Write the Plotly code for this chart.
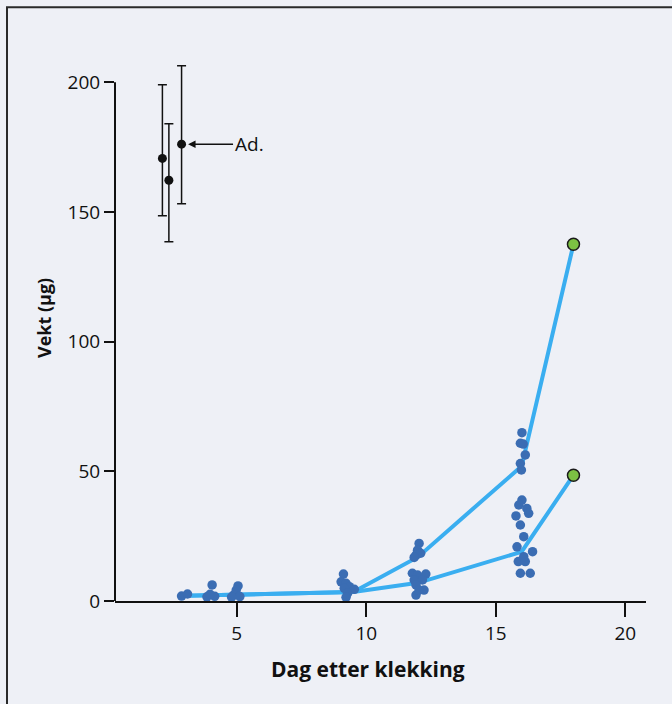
import plotly.graph_objects as go

# Mean curves (two groups)
line_days = [3, 5, 9.5, 12, 16, 18]
upper_means = [2.0, 2.5, 3.5, 17.0, 52.0, 137.5]
lower_means = [2.0, 2.5, 3.5, 7.0, 19.0, 48.5]

# Individual larvae
ind_days = [2.87, 3.1,
            3.85, 4.05, 4.15, 3.97,
            5.05, 4.98, 4.88, 5.12, 4.8,
            9.12, 9.03, 9.22, 9.35, 9.54, 9.15, 9.28, 9.22,
            12.04, 11.98, 11.92, 12.1, 11.85,
            11.78, 11.98, 12.3, 11.85, 12.17, 11.92, 12.23, 11.92, 12.04,
            16.01, 15.95, 16.14, 15.95, 15.99, 16.06,
            16.01, 15.89, 16.2, 16.27, 15.78, 15.95, 16.08, 15.82, 16.42, 15.87, 16.14, 15.95, 16.33, 16.08]
ind_weights = [1.9, 2.7,
               1.6, 6.2, 1.8, 2.6,
               5.8, 4.2, 2.3, 1.7, 1.5,
               10.4, 7.4, 6.8, 5.5, 4.5, 4.9, 3.0, 1.4,
               22.2, 19.6, 17.7, 18.4, 16.8,
               10.7, 10.0, 10.4, 8.1, 8.1, 6.2, 4.2, 2.3, 4.2,
               64.9, 60.8, 56.3, 53.0, 50.5, 60.5,
               38.9, 37.0, 35.7, 33.8, 32.8, 29.3, 24.8, 20.9, 19.0, 15.2, 15.2, 10.7, 10.7, 17.1]

# Adults
adult_days = [2.13, 2.38, 2.87]
adult_means = [170.6, 162.2, 176.1]
adult_err_plus = [28.4, 21.8, 30.2]
adult_err_minus = [22.1, 23.7, 23.0]

x_ticks = [5, 10, 15, 20]
y_ticks = [0, 50, 100, 150, 200]
y_axis_max = 200

LINE = "#3aaef0"
DOT = "#3b6db3"
GREEN = "#7cc143"
FONT = "Open Sans"
INK = "#111111"

# plot area geometry (pixels)
L, R, B = 115, 646, 601
PX_PER_UNIT = 2.595
Y_TOP_VAL = 212
T = B - Y_TOP_VAL * PX_PER_UNIT
W, H = R - L, B - T


def px_x(p):
    return (p - L) / W


def px_y(p):
    return (B - p) / H


fig = go.Figure()

fig.add_trace(go.Scatter(x=line_days, y=upper_means, mode="lines",
                         line=dict(color=LINE, width=4), cliponaxis=False, hoverinfo="skip"))
fig.add_trace(go.Scatter(x=line_days, y=lower_means, mode="lines",
                         line=dict(color=LINE, width=4), cliponaxis=False, hoverinfo="skip"))
fig.add_trace(go.Scatter(x=ind_days, y=ind_weights, mode="markers",
                         marker=dict(color=DOT, size=9.5), cliponaxis=False))
fig.add_trace(go.Scatter(x=[line_days[-1], line_days[-1]], y=[upper_means[-1], lower_means[-1]],
                         mode="markers",
                         marker=dict(color=GREEN, size=12, line=dict(color="#1a1a1a", width=1.5)),
                         cliponaxis=False))
fig.add_trace(go.Scatter(x=adult_days, y=adult_means, mode="markers",
                         marker=dict(color=INK, size=9),
                         error_y=dict(type="data", symmetric=False, array=adult_err_plus,
                                      arrayminus=adult_err_minus, color=INK,
                                      thickness=1.5, width=4.5),
                         cliponaxis=False))

fig.add_annotation(x=3.12, y=adult_means[2], xref="x", yref="y",
                   text="Ad.", showarrow=True, ax=61, ay=0,
                   arrowhead=2, arrowsize=1, arrowwidth=1.5, arrowcolor=INK,
                   standoff=0, font=dict(family=FONT, size=19, color=INK))

# Y axis line only up to 200
fig.add_shape(type="line", xref="paper", yref="y", x0=0, x1=0, y0=0, y1=y_axis_max,
              line=dict(color=INK, width=2))

# Axis titles
fig.add_annotation(x=px_x(368), y=px_y(669), xref="paper", yref="paper",
                   xanchor="center", yanchor="middle",
                   text="<b>Dag etter klekking</b>", showarrow=False,
                   font=dict(family=FONT, size=21, color=INK))
fig.add_annotation(x=px_x(44), y=px_y(318), xref="paper", yref="paper",
                   xanchor="center", yanchor="middle",
                   text="<b>Vekt (µg)</b>", showarrow=False, textangle=-90,
                   font=dict(family=FONT, size=18, color=INK))

# Frame
fig.add_shape(type="rect", xref="paper", yref="paper",
              x0=px_x(7), x1=px_x(690), y0=px_y(720), y1=px_y(7),
              line=dict(color="#2a2a2a", width=2), layer="below")

fig.update_layout(
    width=672, height=704,
    margin=dict(l=L, r=672 - R, t=T, b=704 - B),
    paper_bgcolor="#eef0f6", plot_bgcolor="#eef0f6",
    showlegend=False,
    font=dict(family=FONT, size=19, color=INK),
    xaxis=dict(range=[0.3, 20.8], tickvals=x_ticks, showgrid=False, zeroline=False,
               showline=True, linecolor=INK, linewidth=2,
               ticks="outside", ticklen=14, tickwidth=2, tickcolor=INK,
               tickfont=dict(family=FONT, size=19, color=INK)),
    yaxis=dict(range=[0, Y_TOP_VAL], tickvals=y_ticks, showgrid=False, zeroline=False,
               showline=False,
               ticks="outside", ticklen=10, tickwidth=2, tickcolor=INK,
               tickfont=dict(family=FONT, size=19, color=INK)),
)

fig.write_html("out.html")
